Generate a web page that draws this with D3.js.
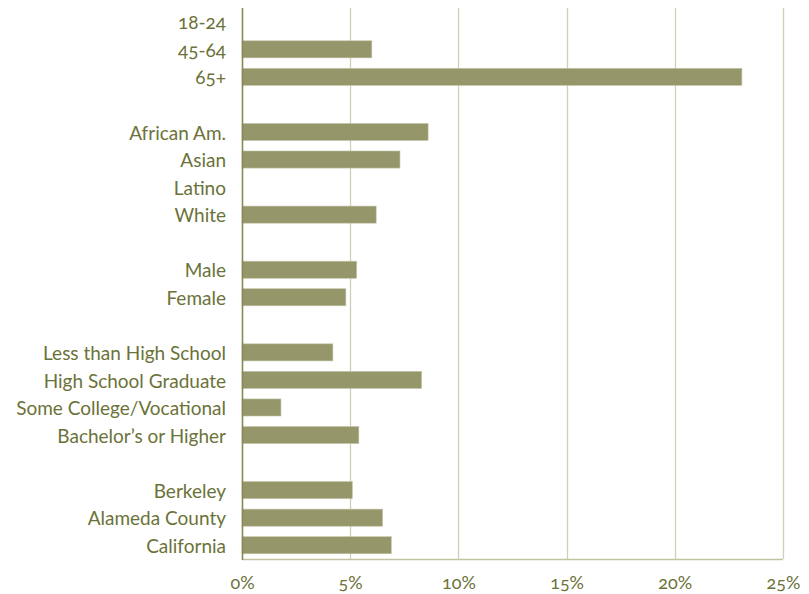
<!DOCTYPE html>
<html>
<head>
<meta charset="utf-8">
<script src="https://cdn.jsdelivr.net/npm/d3@7"></script>
<style>
  html, body { margin: 0; padding: 0; background: #fff; }
  svg { display: block; }
  text { font-family: Lato, "Open Sans", sans-serif; fill: #6b7238; font-variant-numeric: oldstyle-nums; font-weight: 400; }
</style>
</head>
<body>
<svg id="chart" width="809" height="594"></svg>
<script>
// Rows (blank strings are spacer rows)
const categories = [
  "18-24", "45-64", "65+", "",
  "African Am.", "Asian", "Latino", "White", " ",
  "Male", "Female", "  ",
  "Less than High School", "High School Graduate", "Some College/Vocational", "Bachelor\u2019s or Higher", "   ",
  "Berkeley", "Alameda County", "California"
];
const values = [
  null, 6.0, 23.1, null,
  8.6, 7.3, null, 6.2, null,
  5.3, 4.8, null,
  4.2, 8.3, 1.8, 5.4, null,
  5.1, 6.5, 6.9
];
const tickValues = [0, 5, 10, 15, 20, 25];
const tickLabels = ["0%", "5%", "10%", "15%", "20%", "25%"];

const svg = d3.select("#chart");
const margin = { left: 242, right: 26, top: 8, bottom: 35 };
const W = 809, H = 594;

const x = d3.scaleLinear().domain([0, 25]).range([margin.left, W - margin.right]);
const y = d3.scaleBand().domain(categories).range([margin.top, H - margin.bottom]).paddingInner(0.38).paddingOuter(0.19);

// gridlines
svg.append("g").selectAll("line").data(tickValues.slice(1)).join("line")
  .attr("x1", d => Math.round(x(d)) + 0.5).attr("x2", d => Math.round(x(d)) + 0.5)
  .attr("y1", margin.top).attr("y2", H - margin.bottom)
  .attr("stroke", "#cfcfb8").attr("stroke-width", 1.3);

// bottom line
svg.append("line")
  .attr("x1", x(0)).attr("x2", x(25))
  .attr("y1", H - margin.bottom + 0.5).attr("y2", H - margin.bottom + 0.5)
  .attr("stroke", "#c2c3a2").attr("stroke-width", 1.3);

// bars
const rows = categories.map((c, i) => ({ c, v: values[i] })).filter(d => d.v != null);
svg.append("g").selectAll("rect").data(rows).join("rect")
  .attr("x", x(0))
  .attr("y", d => y(d.c))
  .attr("width", d => x(d.v) - x(0))
  .attr("height", y.bandwidth())
  .attr("fill", "#95966a")
  .attr("stroke", "#c4c5a8").attr("stroke-width", 0.6);

// vertical axis line
svg.append("line")
  .attr("x1", x(0) + 0.5).attr("x2", x(0) + 0.5)
  .attr("y1", margin.top).attr("y2", H - margin.bottom + 1)
  .attr("stroke", "#878a55").attr("stroke-width", 1.6);

// category labels
svg.append("g").selectAll("text").data(categories.filter(c => c.trim() !== "")).join("text")
  .attr("x", 226)
  .attr("y", d => y(d) + y.bandwidth() / 2)
  .attr("dy", "0.4em")
  .attr("text-anchor", "end")
  .attr("font-size", 19)
  .text(d => d);

// x tick labels via axis
const xAxis = d3.axisBottom(x).tickValues(tickValues).tickFormat((d, i) => tickLabels[i]).tickSize(0).tickPadding(0);
const gx = svg.append("g").attr("transform", `translate(0, ${H - margin.bottom + 17})`).call(xAxis);
gx.select(".domain").remove();
gx.selectAll("text").attr("font-size", 18).attr("fill", "#6b7238")
  .style("font-family", "Lato, 'Open Sans', sans-serif").style("font-weight", 400);
</script>
</body>
</html>
